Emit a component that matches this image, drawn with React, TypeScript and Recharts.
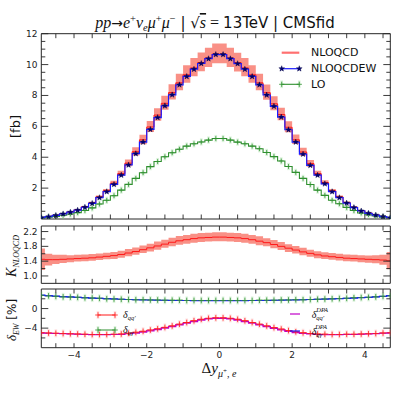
import React from 'react';
import { ComposedChart, Line, Area, XAxis, YAxis } from 'recharts';

const xs = [-4.9,-4.7,-4.5,-4.3,-4.1,-3.9,-3.7,-3.5,-3.3,-3.1,-2.9,-2.7,-2.5,-2.3,-2.1,-1.9,-1.7,-1.5,-1.3,-1.1,-0.9,-0.7,-0.5,-0.3,-0.1,0.1,0.3,0.5,0.7,0.9,1.1,1.3,1.5,1.7,1.9,2.1,2.3,2.5,2.7,2.9,3.1,3.3,3.5,3.7,3.9,4.1,4.3,4.5,4.7];
const nloqcdew = [0.09,0.15,0.23,0.33,0.44,0.57,0.76,1.01,1.38,1.77,2.24,2.84,3.50,4.23,4.98,5.80,6.57,7.33,8.04,8.69,9.23,9.70,10.07,10.38,10.65,10.65,10.38,10.06,9.70,9.23,8.69,8.03,7.30,6.60,5.78,4.98,4.20,3.47,2.84,2.28,1.77,1.38,1.03,0.74,0.52,0.37,0.25,0.16,0.08];
const nloqcd = [0.09,0.15,0.24,0.34,0.45,0.59,0.78,1.04,1.43,1.83,2.32,2.94,3.62,4.36,5.13,5.96,6.73,7.49,8.19,8.82,9.34,9.78,10.13,10.42,10.68,10.68,10.42,10.12,9.78,9.34,8.82,8.18,7.46,6.77,5.94,5.13,4.34,3.59,2.94,2.36,1.83,1.43,1.06,0.76,0.54,0.38,0.26,0.16,0.08];
const nloqcdHigh = [0.11,0.17,0.26,0.37,0.49,0.63,0.84,1.11,1.52,1.95,2.47,3.13,3.85,4.65,5.46,6.35,7.17,7.98,8.72,9.40,9.95,10.42,10.78,11.09,11.37,11.37,11.09,10.77,10.42,9.95,9.40,8.71,7.95,7.21,6.33,5.47,4.62,3.82,3.13,2.51,1.95,1.52,1.13,0.81,0.57,0.41,0.28,0.18,0.10];
const nloqcdLow = [0.07,0.14,0.22,0.32,0.43,0.56,0.74,0.99,1.35,1.73,2.19,2.78,3.42,4.12,4.84,5.63,6.36,7.08,7.74,8.34,8.83,9.25,9.57,9.84,10.09,10.09,9.84,9.56,9.25,8.83,8.34,7.73,7.05,6.39,5.62,4.85,4.10,3.39,2.78,2.23,1.73,1.35,1.01,0.72,0.50,0.36,0.24,0.15,0.07];
const lo = [0.06,0.11,0.17,0.24,0.32,0.41,0.55,0.72,0.97,1.21,1.51,1.87,2.24,2.63,3.00,3.39,3.72,4.03,4.29,4.52,4.72,4.87,4.99,5.11,5.21,5.21,5.11,4.98,4.87,4.72,4.55,4.31,4.04,3.76,3.40,3.02,2.63,2.23,1.87,1.53,1.21,0.99,0.75,0.55,0.39,0.28,0.19,0.12,0.06];
const kFactor = [1.45,1.44,1.44,1.45,1.46,1.47,1.48,1.49,1.51,1.53,1.55,1.58,1.62,1.66,1.71,1.76,1.81,1.86,1.91,1.95,1.98,2.01,2.03,2.04,2.05,2.05,2.04,2.03,2.01,1.98,1.94,1.90,1.85,1.80,1.75,1.70,1.65,1.61,1.57,1.54,1.52,1.50,1.48,1.47,1.46,1.45,1.44,1.43,1.41];
const kHigh = [1.74,1.60,1.57,1.57,1.56,1.57,1.58,1.59,1.61,1.63,1.65,1.68,1.73,1.77,1.82,1.87,1.93,1.98,2.03,2.08,2.11,2.14,2.16,2.17,2.18,2.18,2.17,2.16,2.14,2.11,2.07,2.02,1.97,1.92,1.86,1.81,1.76,1.71,1.67,1.64,1.62,1.60,1.58,1.57,1.56,1.55,1.56,1.57,1.65];
const kLow = [1.16,1.28,1.32,1.35,1.37,1.39,1.40,1.41,1.43,1.45,1.46,1.49,1.53,1.57,1.62,1.66,1.71,1.76,1.80,1.84,1.87,1.90,1.92,1.93,1.94,1.94,1.93,1.92,1.90,1.87,1.83,1.80,1.75,1.70,1.65,1.61,1.56,1.52,1.48,1.46,1.44,1.42,1.40,1.39,1.37,1.36,1.34,1.30,1.18];
const dQQ = [-4.95,-5.0,-5.05,-5.1,-5.15,-5.2,-5.25,-5.3,-5.3,-5.3,-5.25,-5.2,-5.05,-4.85,-4.65,-4.4,-4.15,-3.85,-3.55,-3.2,-2.85,-2.5,-2.2,-2.0,-1.9,-1.9,-2.0,-2.2,-2.5,-2.85,-3.2,-3.55,-3.9,-4.2,-4.5,-4.75,-4.95,-5.1,-5.2,-5.25,-5.3,-5.3,-5.25,-5.25,-5.2,-5.15,-5.1,-5.0,-4.95];
const dQQdpa = [-5.0,-5.05,-5.1,-5.15,-5.2,-5.25,-5.3,-5.35,-5.35,-5.35,-5.3,-5.3,-5.15,-5.0,-4.8,-4.55,-4.3,-4.0,-3.7,-3.35,-3.0,-2.65,-2.35,-2.1,-2.0,-2.0,-2.1,-2.35,-2.65,-3.0,-3.35,-3.7,-4.05,-4.35,-4.65,-4.9,-5.1,-5.2,-5.3,-5.35,-5.35,-5.35,-5.3,-5.3,-5.25,-5.2,-5.15,-5.05,-5.0];
const dQG = [2.7,2.6,2.5,2.4,2.35,2.3,2.2,2.15,2.1,2.0,1.95,1.9,1.85,1.8,1.8,1.75,1.75,1.7,1.7,1.7,1.65,1.65,1.65,1.65,1.65,1.65,1.65,1.65,1.65,1.65,1.7,1.7,1.7,1.75,1.75,1.8,1.8,1.85,1.9,1.95,2.0,2.05,2.1,2.2,2.25,2.3,2.4,2.5,2.6];
const dQGdpa = [2.75,2.65,2.55,2.45,2.4,2.3,2.25,2.15,2.1,2.05,2.0,1.9,1.85,1.8,1.75,1.75,1.7,1.7,1.65,1.65,1.65,1.6,1.6,1.6,1.6,1.6,1.6,1.6,1.6,1.65,1.65,1.65,1.7,1.7,1.75,1.75,1.8,1.85,1.9,1.95,2.0,2.05,2.1,2.15,2.25,2.3,2.4,2.5,2.65];

const xTicks = [-4.5,-4,-3.5,-3,-2.5,-2,-1.5,-1,-0.5,0,0.5,1,1.5,2,2.5,3,3.5,4,4.5];
const xLabels = [-4,-2,0,2,4];
const topYTicks = [0.5,1,1.5,2,2.5,3,3.5,4,4.5,5,5.5,6,6.5,7,7.5,8,8.5,9,9.5,10,10.5,11,11.5,12];
const topYLabels = [2,4,6,8,10,12];
const kTicks = [1.0,1.2,1.4,1.6,1.8,2.0,2.2];
const kLabels = [1.0,1.4,1.8,2.2];
const dTicks = [-6,-4,-2,0,2];
const dLabels = [-4,0];

const rows = xs.map((x, i) => ({
  x,
  ew: nloqcdew[i],
  qcd: nloqcd[i],
  qband: [nloqcdLow[i], nloqcdHigh[i]],
  lo: lo[i],
  k: kFactor[i],
  kband: [kLow[i], kHigh[i]],
  dqq: dQQ[i],
  dqqd: dQQdpa[i],
  dqg: dQG[i],
  dqgd: dQGdpa[i],
}));

const W = 399, H = 399;
const PL = 41.3, PR = 390.3;
const P1 = [33.7, 219];
const P2 = [226, 283.35];
const P3 = [289, 347.7];
const FRAME = '#262626';
const BAND = '#f98a80';
const RED = '#ff1a1a';
const BLUE = '#1a1aff';
const GREEN = '#2e8f2e';
const MAGENTA = '#c000c8';
const SANS = 'DejaVu Sans';
const SERIF = 'Liberation Serif';

const fmtMinus = (v: number) => (v < 0 ? '\u2212' + String(Math.abs(v)) : String(v));
const fmt1 = (v: number) => v.toFixed(1);

type Side = 'top' | 'bottom' | 'left' | 'right';
function makeTick(side: Side, labeled: number[], fmt: ((v: number) => string) | null, longLen: number, shortLen: number) {
  return (props: any) => {
    const { x, y, payload, index } = props;
    const v = Number(payload.value);
    const lab = labeled.some((l) => Math.abs(l - v) < 1e-6);
    const len = lab ? longLen : shortLen;
    let x2 = x, y2 = y;
    if (side === 'bottom') y2 = y - len;
    else if (side === 'top') y2 = y + len;
    else if (side === 'left') x2 = x + len;
    else x2 = x - len;
    let label: any = null;
    if (lab && fmt) {
      if (side === 'bottom') {
        label = <text x={x} y={y + 7.6} textAnchor="middle" dominantBaseline="central" fontFamily={SANS} fontSize={9} fill="#222">{fmt(v)}</text>;
      } else if (side === 'left') {
        label = <text x={x - 3.8} y={y} textAnchor="end" dominantBaseline="central" fontFamily={SANS} fontSize={9} fill="#222">{fmt(v)}</text>;
      }
    }
    return (
      <g key={`t${side}${index}`}>
        <line x1={x} y1={y} x2={x2} y2={y2} stroke={FRAME} strokeWidth={0.9} />
        {label}
      </g>
    );
  };
}

function starPath(cx: number, cy: number, R: number, r: number) {
  let d = '';
  for (let i = 0; i < 10; i++) {
    const a = -Math.PI / 2 + (i * Math.PI) / 5;
    const rad = i % 2 === 0 ? R : r;
    d += (i === 0 ? 'M' : 'L') + (cx + rad * Math.cos(a)).toFixed(2) + ',' + (cy + rad * Math.sin(a)).toFixed(2);
  }
  return d + 'Z';
}

const Star = ({ cx, cy }: { cx: number; cy: number }) => (
  <path d={starPath(cx, cy, 3.0, 1.25)} fill="#000070" stroke="#000040" strokeWidth={0.4} />
);

const Plus = ({ cx, cy, color, halo, s = 3.2 }: { cx: number; cy: number; color: string; halo: string; s?: number }) => (
  <g>
    <rect x={cx - 1.3} y={cy - s - 1.2} width={2.6} height={2 * s + 2.4} fill={halo} opacity={0.3} />
    <line x1={cx} y1={cy - s} x2={cx} y2={cy + s} stroke={color} strokeWidth={0.8} />
    <line x1={cx - s} y1={cy} x2={cx + s} y2={cy} stroke={color} strokeWidth={0.8} />
  </g>
);

const starDot = (p: any) => <Star key={`s${p.index}`} cx={p.cx} cy={p.cy} />;
const plusDot = (color: string, halo: string, s: number) => (p: any) => <Plus key={`p${p.index}`} cx={p.cx} cy={p.cy} color={color} halo={halo} s={s} />;

function Axes({ yDomain, yTicks, yLabels, yFmt, showX }: any) {
  return [
    <XAxis key="xb" xAxisId="b" dataKey="x" type="number" domain={[-4.9, 4.7]} allowDataOverflow ticks={xTicks} interval={0} height={1} tickSize={0} tickMargin={0} tickLine={false} axisLine={{ stroke: FRAME, strokeWidth: 1 }} tick={makeTick('bottom', showX ? xLabels : [], showX ? fmtMinus : null, 4.5, 4.5)} />,
    <XAxis key="xt" xAxisId="t" orientation="top" dataKey="x" type="number" domain={[-4.9, 4.7]} allowDataOverflow ticks={xTicks} interval={0} height={1} tickSize={0} tickMargin={0} tickLine={false} axisLine={{ stroke: FRAME, strokeWidth: 1 }} tick={makeTick('top', [], null, 4.5, 4.5)} />,
    <YAxis key="yl" yAxisId="l" type="number" domain={yDomain} allowDataOverflow ticks={yTicks} interval={0} width={1} tickSize={0} tickMargin={0} tickLine={false} axisLine={{ stroke: FRAME, strokeWidth: 1 }} tick={makeTick('left', yLabels, yFmt, 7, 4)} />,
    <YAxis key="yr" yAxisId="r" orientation="right" type="number" domain={yDomain} allowDataOverflow ticks={yTicks} interval={0} width={1} tickSize={0} tickMargin={0} tickLine={false} axisLine={{ stroke: FRAME, strokeWidth: 1 }} tick={makeTick('right', yLabels, null, 7, 4)} />,
  ];
}

const layer: React.CSSProperties = { position: 'absolute', left: 0, top: 0, width: W, height: H };
const margins = (p: number[]) => ({ top: p[0] - 1, bottom: H - p[1] - 1, left: PL - 1, right: W - PR - 1 });

export default function App() {
  const it = { fontFamily: SERIF, fontStyle: 'italic' as const };
  return (
    <div style={{ position: 'absolute', left: 0, top: 0, width: W, height: H, background: '#fff' }}>
      <div style={layer}>
        <ComposedChart width={W} height={H} data={rows} margin={margins(P1)}>
          {Axes({ yDomain: [0, 12], yTicks: topYTicks, yLabels: topYLabels, yFmt: fmtMinus, showX: false })}
          <Area xAxisId="b" yAxisId="l" dataKey="qband" type="step" fill={BAND} fillOpacity={0.95} stroke="none" isAnimationActive={false} />
          <Line xAxisId="b" yAxisId="l" dataKey="qcd" type="step" stroke={RED} strokeWidth={1} dot={false} activeDot={false} isAnimationActive={false} />
          <Line xAxisId="b" yAxisId="l" dataKey="lo" type="step" stroke={GREEN} strokeWidth={1.1} dot={plusDot(GREEN, '#7fd07f', 2.4)} activeDot={false} isAnimationActive={false} />
          <Line xAxisId="b" yAxisId="l" dataKey="ew" type="step" stroke={BLUE} strokeWidth={1.2} dot={starDot} activeDot={false} isAnimationActive={false} />
        </ComposedChart>
      </div>
      <div style={layer}>
        <ComposedChart width={W} height={H} data={rows} margin={margins(P2)}>
          {Axes({ yDomain: [0.8, 2.35], yTicks: kTicks, yLabels: kLabels, yFmt: fmt1, showX: false })}
          <Area xAxisId="b" yAxisId="l" dataKey="kband" type="step" fill={BAND} fillOpacity={0.95} stroke="none" isAnimationActive={false} />
          <Line xAxisId="b" yAxisId="l" dataKey="k" type="step" stroke={RED} strokeWidth={1} dot={false} activeDot={false} isAnimationActive={false} />
        </ComposedChart>
      </div>
      <div style={layer}>
        <ComposedChart width={W} height={H} data={rows} margin={margins(P3)}>
          {Axes({ yDomain: [-8, 4], yTicks: dTicks, yLabels: dLabels, yFmt: fmtMinus, showX: true })}
          <Line xAxisId="b" yAxisId="l" dataKey="dqg" type="step" stroke={GREEN} strokeWidth={1} dot={plusDot(GREEN, '#8fd88f', 2.8)} activeDot={false} isAnimationActive={false} />
          <Line xAxisId="b" yAxisId="l" dataKey="dqgd" type="step" stroke={BLUE} strokeWidth={1.2} dot={false} activeDot={false} isAnimationActive={false} />
          <Line xAxisId="b" yAxisId="l" dataKey="dqq" type="step" stroke={RED} strokeWidth={1} dot={plusDot(RED, '#ff9a9a', 2.8)} activeDot={false} isAnimationActive={false} />
          <Line xAxisId="b" yAxisId="l" dataKey="dqqd" type="step" stroke={MAGENTA} strokeWidth={1.2} dot={false} activeDot={false} isAnimationActive={false} />
        </ComposedChart>
      </div>
      <svg style={{ ...layer, pointerEvents: 'none' }} width={W} height={H}>
        <text x={215} y={28} textAnchor="middle" fontSize={16} fill="#111">
          <tspan {...it}>pp</tspan>
          <tspan fontFamily={SANS} fontSize={14}>→</tspan>
          <tspan {...it}>e</tspan>
          <tspan fontFamily={SERIF} fontSize={10.5} dy={-6}>+</tspan>
          <tspan {...it} dy={6}>ν</tspan>
          <tspan {...it} fontSize={10.5} dy={3}>e</tspan>
          <tspan {...it} dy={-3}>μ</tspan>
          <tspan fontFamily={SERIF} fontSize={10.5} dy={-6}>+</tspan>
          <tspan {...it} dy={6}>μ</tspan>
          <tspan fontFamily={SERIF} fontSize={10.5} dy={-6}>−</tspan>
          <tspan fontFamily={SANS} fontSize={15} dy={6}>{' | '}</tspan>
          <tspan fontFamily={SANS} fontSize={15}>√</tspan>
          <tspan {...it} textDecoration="overline">s</tspan>
          <tspan fontFamily={SERIF}>{' = '}</tspan>
          <tspan fontFamily={SANS} fontSize={15}>13TeV | CMSfid</tspan>
        </text>
        <text transform="translate(20,126.5) rotate(-90)" textAnchor="middle" fontFamily={SANS} fontSize={13} fill="#111">[fb]</text>
        <text transform="translate(16,256) rotate(-90)" textAnchor="middle" fill="#111">
          <tspan {...it} fontSize={14}>K</tspan>
          <tspan {...it} fontSize={8} dy={3}>NLOQCD</tspan>
        </text>
        <text transform="translate(16,320) rotate(-90)" textAnchor="middle" fill="#111">
          <tspan {...it} fontSize={13}>δ</tspan>
          <tspan {...it} fontSize={8} dy={3}>EW</tspan>
          <tspan fontFamily={SANS} fontSize={12} dy={-3}>{' [%]'}</tspan>
        </text>
        <text x={219} y={373} textAnchor="middle" fill="#111">
          <tspan fontFamily={SERIF} fontSize={15}>Δ</tspan>
          <tspan {...it} fontSize={15}>y</tspan>
          <tspan {...it} fontSize={10} dy={3.5}>μ</tspan>
          <tspan fontFamily={SERIF} fontSize={7} dy={-4}>+</tspan>
          <tspan {...it} fontSize={10} dy={4}>, e</tspan>
        </text>
        <line x1={281.7} y1={52.7} x2={299.3} y2={52.7} stroke="#ff7070" strokeWidth={2.2} />
        <text x={311} y={52.7} dominantBaseline="central" fontFamily={SANS} fontSize={11} fill="#111">NLOQCD</text>
        <line x1={281.7} y1={68.7} x2={299.3} y2={68.7} stroke={BLUE} strokeWidth={1.2} />
        <Star cx={281.7} cy={68.7} />
        <Star cx={299.3} cy={68.7} />
        <text x={311} y={68.7} dominantBaseline="central" fontFamily={SANS} fontSize={11} fill="#111">NLOQCDEW</text>
        <line x1={281.7} y1={84.3} x2={299.3} y2={84.3} stroke={GREEN} strokeWidth={1.1} />
        <Plus cx={281.7} cy={84.3} color={GREEN} halo="#7fd07f" s={2.6} />
        <Plus cx={299.3} cy={84.3} color={GREEN} halo="#7fd07f" s={2.6} />
        <text x={311} y={84.3} dominantBaseline="central" fontFamily={SANS} fontSize={11} fill="#111">LO</text>
        <line x1={98} y1={315} x2={115} y2={315} stroke={RED} strokeWidth={1} />
        <Plus cx={98} cy={315} color={RED} halo="#ff9a9a" s={2.8} />
        <Plus cx={115} cy={315} color={RED} halo="#ff9a9a" s={2.8} />
        <text x={123} y={318} fill="#111">
          <tspan {...it} fontSize={10}>δ</tspan>
          <tspan {...it} fontSize={6.5} dy={2}>qq′</tspan>
        </text>
        <line x1={98} y1={330} x2={115} y2={330} stroke={GREEN} strokeWidth={1} />
        <Plus cx={98} cy={330} color={GREEN} halo="#8fd88f" s={2.8} />
        <Plus cx={115} cy={330} color={GREEN} halo="#8fd88f" s={2.8} />
        <text x={123} y={333} fill="#111">
          <tspan {...it} fontSize={10}>δ</tspan>
          <tspan {...it} fontSize={6.5} dy={2}>qγ</tspan>
        </text>
        <line x1={290} y1={314} x2={300} y2={314} stroke={MAGENTA} strokeWidth={1.2} />
        <text x={311.7} y={318} fill="#111">
          <tspan {...it} fontSize={10}>δ</tspan>
          <tspan {...it} fontSize={6.5} dy={2}>qq′</tspan>
          <tspan {...it} fontSize={6.5} dx={-8} dy={-8}>DPA</tspan>
        </text>
        <line x1={290} y1={331} x2={300} y2={331} stroke={BLUE} strokeWidth={1.2} />
        <text x={311.7} y={335} fill="#111">
          <tspan {...it} fontSize={10}>δ</tspan>
          <tspan {...it} fontSize={6.5} dy={2}>qγ</tspan>
          <tspan {...it} fontSize={6.5} dx={-7} dy={-8}>DPA</tspan>
        </text>
      </svg>
    </div>
  );
}
